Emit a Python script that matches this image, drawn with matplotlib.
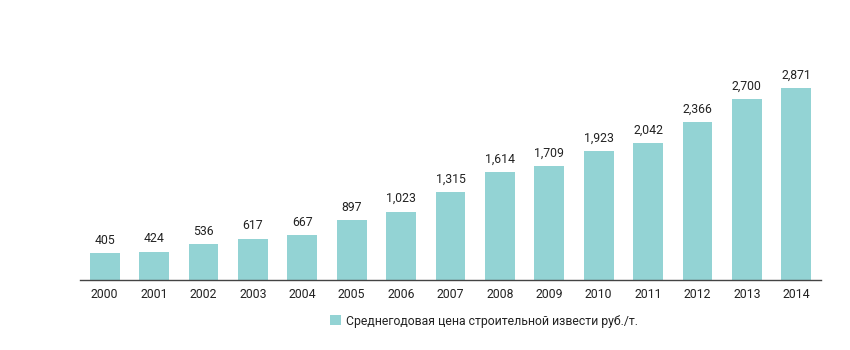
import matplotlib
matplotlib.use("Agg")
import matplotlib.pyplot as plt

years = ["2000", "2001", "2002", "2003", "2004", "2005", "2006", "2007",
         "2008", "2009", "2010", "2011", "2012", "2013", "2014"]
prices = [405, 424, 536, 617, 667, 897, 1023, 1315, 1614, 1709, 1923, 2042, 2366, 2700, 2871]
series_name = "Среднегодовая цена строительной извести руб./т."

plt.rcParams['font.family'] = ['Roboto', 'DejaVu Sans']

fig = plt.figure(figsize=(8.5, 3.5), dpi=100)
ax = fig.add_axes([80/850, 70/350, 741/850, 234/350])
color = "#93d3d4"
x = range(len(years))
bars = ax.bar(x, prices, width=0.6, color=color, label=series_name)
for xi, v in zip(x, prices):
    ax.text(xi, v + 95, f"{v:,}", ha="center", va="bottom", fontsize=8.8, color="#222222")

ax.set_xlim(-0.5, len(years) - 0.5)
ax.set_ylim(0, 3500)
ax.set_xticks(list(x))
ax.set_xticklabels(years, fontsize=8.8, color="#222222")
ax.tick_params(axis="x", length=0, pad=6)
ax.set_yticks([])
for s in ["top", "right", "left"]:
    ax.spines[s].set_visible(False)
ax.spines["bottom"].set_color("#444444")
ax.spines["bottom"].set_linewidth(1.0)

leg = fig.legend(handles=[bars], labels=[series_name], loc="center",
                 bbox_to_anchor=(484/850, 1 - 321/350), frameon=False,
                 fontsize=8.8, handlelength=0.9, handleheight=0.9, handletextpad=0.45)
for t in leg.get_texts():
    t.set_color("#222222")

fig.savefig("out.png", dpi=100)
